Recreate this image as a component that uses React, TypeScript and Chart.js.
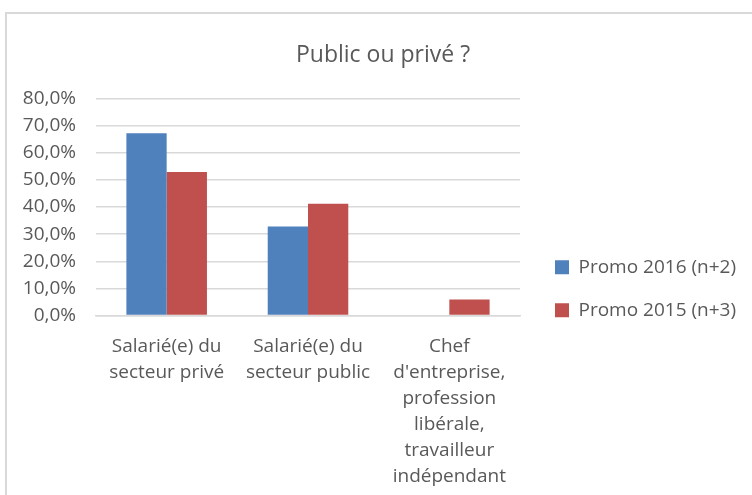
import React, { useEffect, useRef } from "react";
import { Chart, registerables } from "chart.js";

Chart.register(...registerables);

const categories: string[][] = [
  ["Salarié(e) du", "secteur privé"],
  ["Salarié(e) du", "secteur public"],
  ["Chef", "d'entreprise,", "profession", "libérale,", "travailleur", "indépendant"],
];
const promo2016: number[] = [67.2, 32.8, 0];
const promo2015: number[] = [52.9, 41.2, 5.9];
const seriesNames: string[] = ["Promo 2016 (n+2)", "Promo 2015 (n+3)"];
const chartTitle = "Public ou privé ?";

const FONT = "'Open Sans', sans-serif";
const TEXT = "#595959";

const boxShift = {
  id: "boxShift",
  afterLayout(chart: any) {
    const lg = chart.legend;
    if (lg) {
      const dx = 11;
      const dy = 37;
      lg.left += dx;
      lg.top += dy;
      lg.bottom += dy;
      lg.right = chart.width;
      lg.width = lg.right - lg.left;
    }
    const tb = chart.titleBlock;
    if (tb) {
      tb.left = 7;
      tb.right = chart.width;
      tb.width = tb.right - tb.left;
    }
  },
};

export default function App() {
  const ref = useRef<HTMLCanvasElement | null>(null);
  useEffect(() => {
    if (!ref.current) return;
    const chart = new Chart(ref.current, {
      type: "bar",
      data: {
        labels: categories,
        datasets: [
          { label: seriesNames[0], data: promo2016, backgroundColor: "#4F81BD", categoryPercentage: 0.57, barPercentage: 1.0 },
          { label: seriesNames[1], data: promo2015, backgroundColor: "#C0504D", categoryPercentage: 0.57, barPercentage: 1.0 },
        ],
      },
      options: {
        animation: false,
        responsive: false,
        devicePixelRatio: 1,
        layout: { padding: { top: 0, left: 0, right: 72, bottom: 5.5 } },
        plugins: {
          title: {
            display: true,
            text: chartTitle,
            color: TEXT,
            font: { family: FONT, size: 23, weight: "normal" },
            padding: { top: 28, bottom: 29 },
          },
          legend: {
            position: "right",
            maxWidth: 160,
            labels: {
              color: TEXT,
              font: { family: FONT, size: 19 },
              boxWidth: 14,
              boxHeight: 14,
              padding: 24,
            },
          },
          tooltip: { enabled: false },
        },
        scales: {
          x: {
            grid: { display: false, drawTicks: false },
            border: { display: true, color: "#d9d9d9", width: 1.5 },
            ticks: {
              color: TEXT,
              font: { family: FONT, size: 19, lineHeight: 1.37 },
              padding: 18,
              maxRotation: 0,
              autoSkip: false,
            },
            afterFit: (s: any) => { s.height = 174; },
          },
          y: {
            min: 0,
            max: 80,
            grid: { color: "#d9d9d9", lineWidth: 1.5, drawTicks: false },
            border: { display: false },
            ticks: {
              stepSize: 10,
              color: TEXT,
              font: { family: FONT, size: 19 },
              padding: 20,
              callback: (v: any) => Number(v).toFixed(1).replace(".", ",") + "%",
            },
            afterFit: (s: any) => { s.width = 89; },
          },
        },
      },
      plugins: [boxShift],
    });
    return () => chart.destroy();
  }, []);

  return (
    <div style={{ position: "absolute", left: 0, top: 0, width: 752, height: 495, overflow: "hidden", background: "#fff" }}>
      <div style={{ position: "absolute", left: 5, top: 12, width: 800, height: 600, borderLeft: "2px solid #d9d9d9", borderTop: "2px solid #d9d9d9" }} />
      <canvas ref={ref} width={745} height={481} style={{ position: "absolute", left: 7, top: 14, width: 745, height: 481 }} />
    </div>
  );
}
